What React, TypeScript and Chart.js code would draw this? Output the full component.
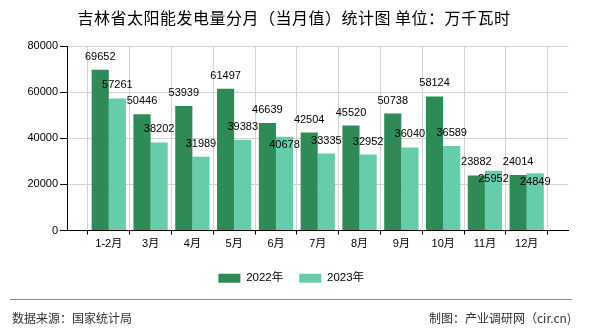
import React, { useEffect, useRef } from "react";
import { Chart, registerables } from "chart.js";

Chart.register(...registerables);

const TITLE = "吉林省太阳能发电量分月（当月值）统计图 单位：万千瓦时";
const SOURCE = "数据来源：国家统计局";
const CREDIT = "制图：产业调研网（cir.cn)";

const months = ["1-2月", "3月", "4月", "5月", "6月", "7月", "8月", "9月", "10月", "11月", "12月"];
const series2022 = [69652, 50446, 53939, 61497, 46639, 42504, 45520, 50738, 58124, 23882, 24014];
const series2023 = [57261, 38202, 31989, 39383, 40678, 33335, 32952, 36040, 36589, 25952, 24849];
const seriesNames = ["2022年", "2023年"];
const yTicks = [0, 20000, 40000, 60000, 80000];

const DARK = "#2E8B57";
const LIGHT = "#66CDAA";
const FONT = '"Liberation Sans", "Noto Sans CJK SC", sans-serif';

// pad with empty slots so categories sit on the grid lines
const labels = ["", ...months, ""];
const pad = (arr: number[]) => [null, ...arr, null];

const decorPlugin = {
  id: "decor",
  afterLayout(chart: any) {
    const lg = chart.legend;
    if (lg) {
      lg.left += 7;
      lg.right += 7;
    }
  },
  afterDraw(chart: any) {
    const ctx = chart.ctx;
    ctx.save();
    // title
    ctx.fillStyle = "#000";
    ctx.font = '16px "Noto Sans CJK SC", sans-serif';
    try { (ctx as any).letterSpacing = "0.5px"; } catch (e) {}
    ctx.textAlign = "center";
    ctx.textBaseline = "middle";
    ctx.fillText(TITLE, 294, 18);
    try { (ctx as any).letterSpacing = "0px"; } catch (e) {}

    // value labels
    ctx.font = "11px " + FONT;
    ctx.fillStyle = "#000";
    const m0 = chart.getDatasetMeta(0).data;
    const m1 = chart.getDatasetMeta(1).data;
    for (let i = 0; i < m0.length; i++) {
      const a = m0[i];
      const b = m1[i];
      const va = chart.data.datasets[0].data[i];
      const vb = chart.data.datasets[1].data[i];
      if (va == null || vb == null) continue;
      const ya = a.y - 13;
      let yb = b.y - 13;
      if (Math.abs(yb - ya) < 15) yb = b.y + 8.5;
      ctx.fillText(String(va), a.x, ya);
      ctx.fillText(String(vb), b.x, yb);
    }

    // footer
    ctx.strokeStyle = "#888";
    ctx.lineWidth = 1;
    ctx.beginPath();
    ctx.moveTo(10, 299.5);
    ctx.lineTo(572, 299.5);
    ctx.stroke();
    ctx.font = '12px "Noto Sans CJK SC", sans-serif';
    ctx.fillStyle = "#333";
    ctx.textAlign = "left";
    ctx.fillText(SOURCE, 12, 318);
    ctx.textAlign = "right";
    ctx.fillText(CREDIT, 571, 318);
    ctx.restore();
  },
};

export default function App() {
  const ref = useRef<HTMLCanvasElement>(null);
  useEffect(() => {
    if (!ref.current) return;
    const chart = new Chart(ref.current, {
      type: "bar",
      data: {
        labels,
        datasets: [
          { label: seriesNames[0], data: pad(series2022) as any, backgroundColor: DARK, borderWidth: 0, categoryPercentage: 0.82, barPercentage: 1 },
          { label: seriesNames[1], data: pad(series2023) as any, backgroundColor: LIGHT, borderWidth: 0, categoryPercentage: 0.82, barPercentage: 1 },
        ],
      },
      options: {
        animation: false,
        responsive: false,
        maintainAspectRatio: false,
        layout: { padding: { top: 46, left: 0, right: 21.5, bottom: 36 } },
        plugins: {
          title: { display: false },
          tooltip: { enabled: false },
          legend: {
            position: "bottom",
            labels: {
              boxWidth: 22,
              boxHeight: 9,
              padding: 16,
              color: "#000",
              font: { size: 11.5, family: FONT },
            },
          },
        },
        scales: {
          x: {
            offset: false,
            grid: { color: "#d3d3d3", tickColor: "#000", tickLength: 4, drawTicks: true },
            border: { color: "#000" },
            ticks: { color: "#000", font: { size: 11, family: FONT }, padding: 3, autoSkip: false, maxRotation: 0 },
            afterFit: (s: any) => { s.height = 26; },
          },
          y: {
            min: 0,
            max: 80000,
            afterBuildTicks: (s: any) => { s.ticks = yTicks.map((v) => ({ value: v })); },
            grid: { color: "#d3d3d3", tickColor: "#000", tickLength: 7 },
            border: { color: "#000" },
            ticks: { color: "#000", font: { size: 11, family: FONT }, padding: 2, callback: (v: any) => String(v) },
            afterFit: (s: any) => { s.width = 67; },
          },
        },
      },
      plugins: [decorPlugin],
    });
    return () => chart.destroy();
  }, []);
  return (
    <div style={{ position: "fixed", left: 0, top: 0, width: 590, height: 330, background: "#fff" }}>
      <canvas ref={ref} width={590} height={330} style={{ width: 590, height: 330, display: "block" }} />
    </div>
  );
}
